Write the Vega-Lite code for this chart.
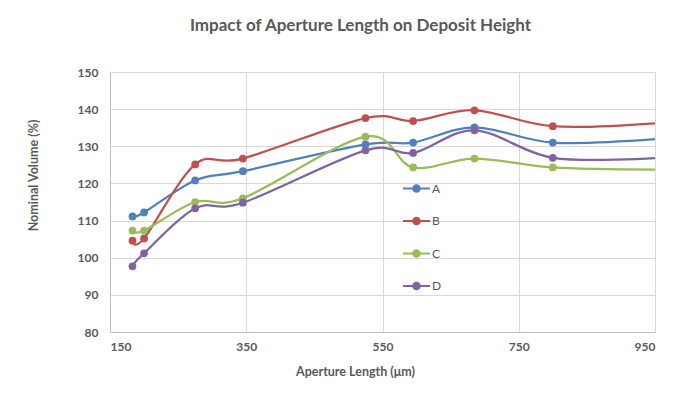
{
  "$schema": "https://vega.github.io/schema/vega-lite/v6.json",
  "width": 545,
  "height": 260,
  "autosize": {"type": "none"},
  "padding": {"left": 110, "top": 72, "right": 45, "bottom": 88},
  "background": "white",
  "title": {
    "text": "Impact of Aperture Length on Deposit Height",
    "font": "Lato",
    "fontSize": 17,
    "fontWeight": "bold",
    "color": "#595959",
    "anchor": "middle",
    "dx": -22,
    "offset": 31
  },
  "data": {
    "values": [
      {"length": 183, "series": "A", "volume": 111.1},
      {"length": 200, "series": "A", "volume": 112.2},
      {"length": 275, "series": "A", "volume": 120.8},
      {"length": 345, "series": "A", "volume": 123.3},
      {"length": 525, "series": "A", "volume": 130.5},
      {"length": 595, "series": "A", "volume": 131.0},
      {"length": 685, "series": "A", "volume": 135.1},
      {"length": 800, "series": "A", "volume": 131.0},
      {"length": 950, "series": "A", "volume": 131.9},
      {"length": 183, "series": "B", "volume": 104.6},
      {"length": 200, "series": "B", "volume": 105.2},
      {"length": 275, "series": "B", "volume": 125.1},
      {"length": 345, "series": "B", "volume": 126.7},
      {"length": 525, "series": "B", "volume": 137.6},
      {"length": 595, "series": "B", "volume": 136.8},
      {"length": 685, "series": "B", "volume": 139.7},
      {"length": 800, "series": "B", "volume": 135.4},
      {"length": 950, "series": "B", "volume": 136.2},
      {"length": 183, "series": "C", "volume": 107.3},
      {"length": 200, "series": "C", "volume": 107.3},
      {"length": 275, "series": "C", "volume": 115.0},
      {"length": 345, "series": "C", "volume": 116.0},
      {"length": 525, "series": "C", "volume": 132.6},
      {"length": 595, "series": "C", "volume": 124.3},
      {"length": 685, "series": "C", "volume": 126.7},
      {"length": 800, "series": "C", "volume": 124.3},
      {"length": 950, "series": "C", "volume": 123.7},
      {"length": 183, "series": "D", "volume": 97.7},
      {"length": 200, "series": "D", "volume": 101.2},
      {"length": 275, "series": "D", "volume": 113.3},
      {"length": 345, "series": "D", "volume": 114.8},
      {"length": 525, "series": "D", "volume": 128.9},
      {"length": 595, "series": "D", "volume": 128.2},
      {"length": 685, "series": "D", "volume": 134.3},
      {"length": 800, "series": "D", "volume": 126.9},
      {"length": 950, "series": "D", "volume": 126.8}
    ]
  },
  "encoding": {
    "x": {
      "field": "length",
      "type": "quantitative",
      "scale": {"domain": [150, 950], "nice": false, "zero": false},
      "axis": {
        "title": "Aperture Length (μm)",
        "values": [150, 350, 550, 750, 950],
        "labelPadding": 9,
        "titleX": 245,
        "titleY": 39,
        "titleBaseline": "middle",
        "titleAnchor": null
      }
    },
    "y": {
      "field": "volume",
      "type": "quantitative",
      "scale": {"domain": [80, 150], "nice": false, "zero": false},
      "axis": {
        "title": "Nominal Volume (%)",
        "values": [80, 90, 100, 110, 120, 130, 140, 150],
        "labelPadding": 12,
        "titleX": -77,
        "titleY": 103,
        "titleBaseline": "middle",
        "titleAlign": "center"
      }
    },
    "color": {
      "field": "series",
      "type": "nominal",
      "scale": {"domain": ["A", "B", "C", "D"], "range": ["#4f81bd", "#c0504d", "#9bbb59", "#8064a2"]},
      "legend": {
        "title": null,
        "orient": "none",
        "legendX": 293,
        "legendY": 103,
        "symbolType": "M-1,-0.075L1,-0.075L1,0.075L-1,0.075Z M0.32,0A0.32,0.32,0,1,1,-0.32,0A0.32,0.32,0,1,1,0.32,0Z",
        "symbolSize": 729,
        "symbolStrokeWidth": 0,
        "symbolOpacity": 1,
        "rowPadding": 12.5,
        "labelOffset": 2,
        "labelFontSize": 12,
        "labelFont": "Lato",
        "labelColor": "#595959"
      }
    }
  },
  "layer": [
    {
      "mark": {"type": "line", "interpolate": "cardinal", "strokeWidth": 2.25, "clip": true}
    },
    {
      "transform": [{"filter": "datum.length < 950"}],
      "mark": {"type": "circle", "size": 60, "opacity": 1}
    }
  ],
  "config": {
    "view": {"stroke": null},
    "font": "Lato",
    "axis": {
      "grid": true,
      "gridColor": "#d9d9d9",
      "gridWidth": 1,
      "domainColor": "#bfbfbf",
      "domainWidth": 1,
      "ticks": false,
      "labelFont": "Lato",
      "labelFontSize": 12,
      "labelFontWeight": "bold",
      "labelColor": "#595959",
      "titleFont": "Lato",
      "titleFontSize": 12.5,
      "titleFontWeight": "bold",
      "titleColor": "#595959"
    }
  }
}
